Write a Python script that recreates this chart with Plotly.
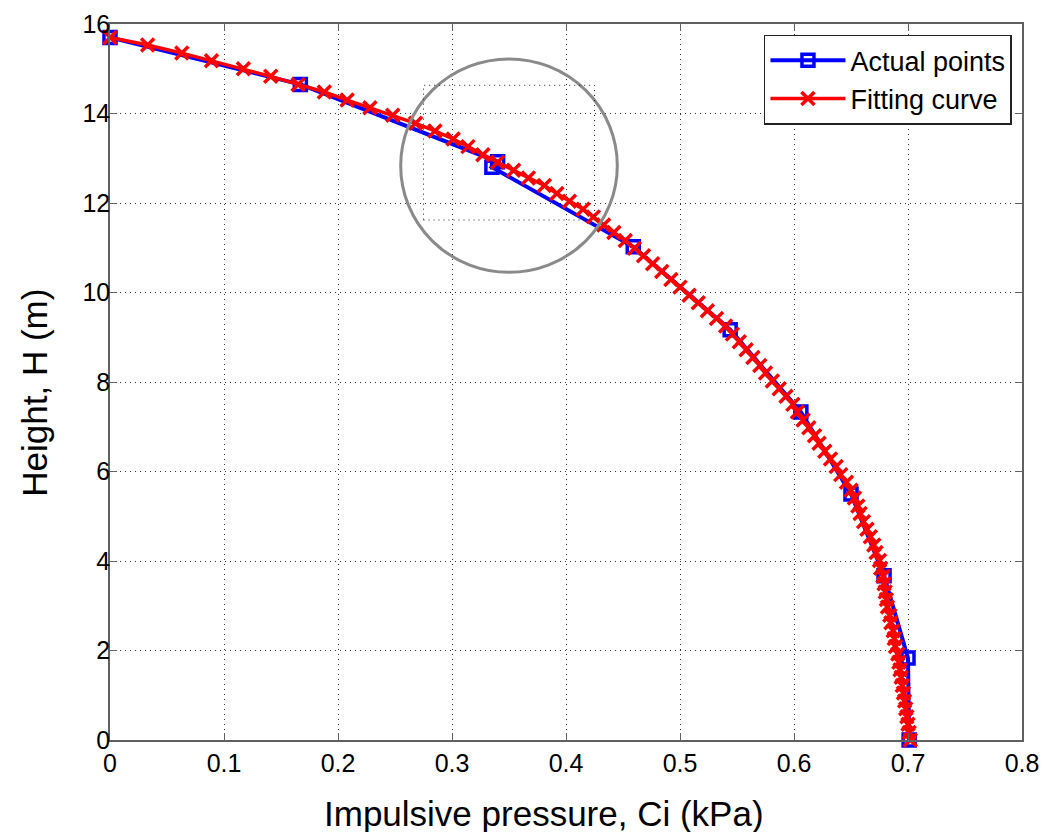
import plotly.graph_objects as go

# actual measured points (pressure in kPa, height in m)
actual_ci = [0.000, 0.167, 0.340, 0.335, 0.459, 0.544, 0.606, 0.650, 0.679, 0.700, 0.701]
actual_h = [15.70, 14.65, 12.92, 12.80, 11.02, 9.17, 7.33, 5.50, 3.67, 1.83, 0.00]

# fitted curve
fit_h = [15.70, 15.53, 15.35, 15.18, 15.00, 14.83, 14.65, 14.48, 14.30, 14.13,
         13.96, 13.78, 13.61, 13.43, 13.26, 13.08, 12.91, 12.73, 12.56, 12.39,
         12.21, 12.04, 11.86, 11.69, 11.51, 11.34, 11.16, 10.99, 10.82, 10.64,
         10.47, 10.29, 10.12, 9.94, 9.77, 9.59, 9.42, 9.25, 9.07, 8.90,
         8.72, 8.55, 8.37, 8.20, 8.02, 7.85, 7.68, 7.50, 7.33, 7.15,
         6.98, 6.80, 6.63, 6.45, 6.28, 6.11, 5.93, 5.76, 5.58, 5.41,
         5.23, 5.06, 4.88, 4.71, 4.54, 4.36, 4.19, 4.01, 3.84, 3.66,
         3.49, 3.31, 3.14, 2.97, 2.79, 2.62, 2.44, 2.27, 2.09, 1.92,
         1.74, 1.57, 1.40, 1.22, 1.05, 0.87, 0.70, 0.52, 0.35, 0.17, 0.00]
fit_ci = [0.000, 0.033, 0.063, 0.089, 0.117, 0.141, 0.165, 0.188, 0.208, 0.228,
          0.248, 0.268, 0.285, 0.301, 0.314, 0.327, 0.340, 0.354, 0.367, 0.381,
          0.392, 0.403, 0.415, 0.424, 0.433, 0.442, 0.452, 0.460, 0.468, 0.476,
          0.484, 0.492, 0.500, 0.508, 0.516, 0.524, 0.532, 0.540, 0.546, 0.552,
          0.558, 0.564, 0.570, 0.575, 0.581, 0.587, 0.593, 0.599, 0.603, 0.608,
          0.613, 0.618, 0.622, 0.627, 0.632, 0.637, 0.641, 0.646, 0.650, 0.653,
          0.656, 0.658, 0.661, 0.664, 0.667, 0.670, 0.672, 0.675, 0.676, 0.678,
          0.679, 0.680, 0.681, 0.682, 0.684, 0.685, 0.687, 0.688, 0.689, 0.691,
          0.692, 0.693, 0.694, 0.695, 0.696, 0.697, 0.698, 0.699, 0.700, 0.701, 0.702]

FONT = "Liberation Sans, Arial, sans-serif"

fig = go.Figure()

fig.add_trace(go.Scatter(
    x=actual_ci, y=actual_h, mode="lines+markers", name="Actual points",
    line=dict(color="#0000ff", width=4),
    marker=dict(symbol="square-open", size=12, color="#0000ff", line=dict(width=3.5)),
    cliponaxis=False,
))
fig.add_trace(go.Scatter(
    x=fit_ci, y=fit_h, mode="lines+markers", name="Fitting curve",
    line=dict(color="#ff0000", width=3.5),
    marker=dict(symbol="x-thin", size=13, color="#ff0000",
                line=dict(width=3.5, color="#ff0000")),
    cliponaxis=False,
))

# zoom circle and dotted box
fig.add_shape(type="circle", xref="x", yref="y",
              x0=0.255, x1=0.445, y0=10.45, y1=15.22,
              line=dict(color="#8a8a8a", width=3))
fig.add_shape(type="rect", xref="x", yref="y",
              x0=0.275, x1=0.425, y0=11.62, y1=14.63,
              line=dict(color="#222222", width=1, dash="1px,4px"))

axis_style = dict(
    showgrid=True, gridcolor="#333333", griddash="1px,4px", gridwidth=1,
    zeroline=False, showline=True, linecolor="#606060", linewidth=1.5, mirror="ticks",
    ticks="inside", ticklen=7, tickcolor="#606060", automargin=False,
    tickfont=dict(family=FONT, size=25, color="black"),
)
fig.update_xaxes(range=[0, 0.8], dtick=0.1, tick0=0, **axis_style)
fig.update_yaxes(range=[0, 16], dtick=2, tick0=0, ticklabelstandoff=-7, **axis_style)

fig.add_annotation(text="Impulsive pressure, Ci (kPa)", xref="paper", yref="paper",
                   x=0.476, y=0, yshift=-73, yanchor="middle", showarrow=False,
                   font=dict(family=FONT, size=35, color="black"))
fig.add_annotation(text="Height, H (m)", xref="paper", yref="paper",
                   x=0, y=0.485, xshift=-75, xanchor="center", yanchor="middle",
                   textangle=-90, showarrow=False,
                   font=dict(family=FONT, size=35, color="black"))

fig.update_layout(
    width=1042, height=832,
    margin=dict(l=110, r=20, t=24, b=92),
    plot_bgcolor="white", paper_bgcolor="white",
    font=dict(family=FONT, color="black"),
    legend=dict(x=0.989, y=0.985, xanchor="right", yanchor="top",
                bgcolor="white", bordercolor="#222222", borderwidth=1.5,
                itemwidth=75, tracegroupgap=0,
                font=dict(family=FONT, size=27, color="black")),
)

# drop the default page margin so the figure sits at the window corner
fig.write_html("out.html", config={"displayModeBar": False},
               post_script="document.body.style.margin='0';document.body.style.overflow='hidden';")
